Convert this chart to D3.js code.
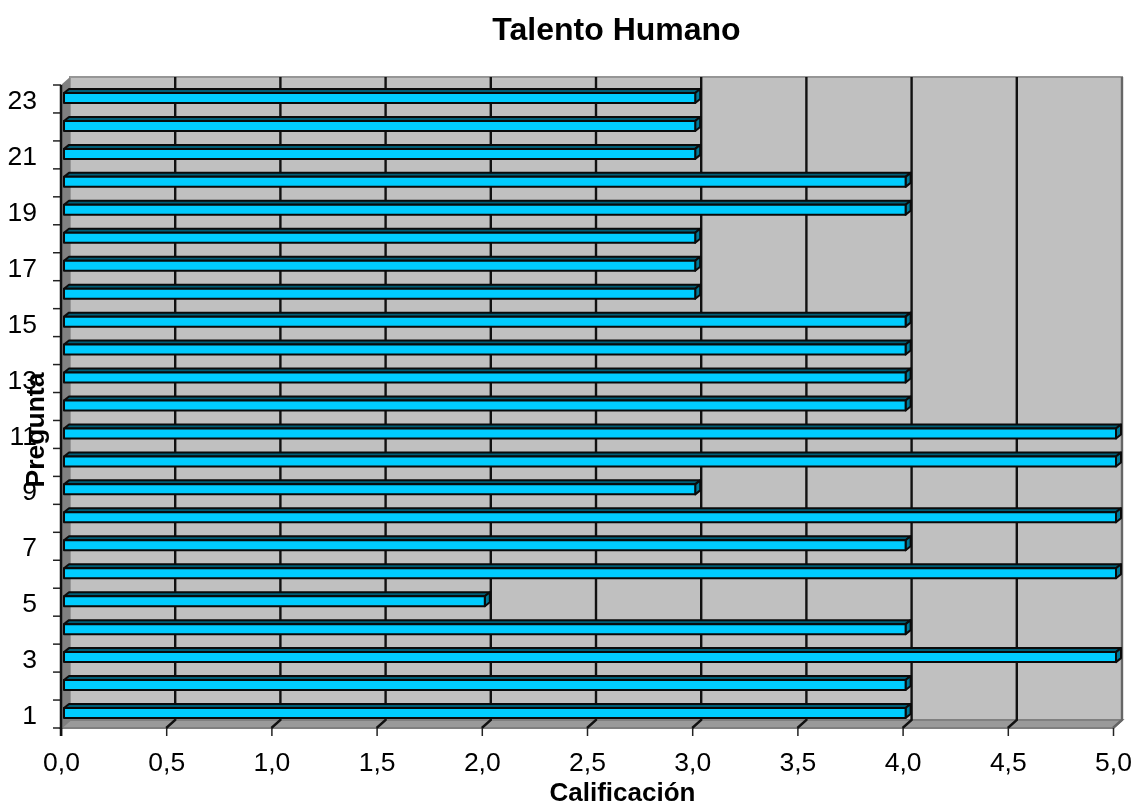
<!DOCTYPE html>
<html><head><meta charset="utf-8">
<script src="https://cdnjs.cloudflare.com/ajax/libs/d3/7.8.5/d3.min.js"></script>
<style>html,body{margin:0;padding:0;background:#fff}svg{display:block;filter:blur(0.45px)}text{font-family:"Liberation Sans",Arial,sans-serif;fill:#000}</style>
</head><body><svg id="c" width="1136" height="807"></svg>
<script>
const chartTitle = "Talento Humano";
const xTitle = "Calificación";
const yTitle = "Pregunta";
const preguntas = d3.range(1, 24);
const valores = [4,4,5,4,2,5,4,5,3,5,5,4,4,4,4,3,3,3,4,4,3,3,3];
const xTicks = [0,0.5,1,1.5,2,2.5,3,3.5,4,4.5,5];

const svg = d3.select("#c");
const x = d3.scaleLinear().domain([0,5]).range([61,1113]);
const y = d3.scaleBand().domain(preguntas).range([728,85]);
const dX = 9, dY = 8;
const fmt = d => d3.format(".1f")(d).replace(".", ",");
const plotTop = y.range()[1], bot = y.range()[0], L = x(0), R = x(5);
const pts = a => a.map(p => p.join(",")).join(" ");

// walls
svg.append("polygon").attr("points", pts([[L+dX,plotTop-dY],[R+dX,plotTop-dY],[R+dX,bot-dY],[L+dX,bot-dY]]))
  .attr("fill","#c0c0c0").attr("stroke","#969696").attr("stroke-width",2);
svg.append("polygon").attr("points", pts([[L,plotTop],[L+dX,plotTop-dY],[L+dX,bot-dY],[L,bot]])).attr("fill","#808080");
svg.append("polygon").attr("points", pts([[L,bot],[L+dX,bot-dY],[R+dX,bot-dY],[R,bot]]))
  .attr("fill","#9a9a9a").attr("stroke","#808080").attr("stroke-width",2);

// gridlines
const grid = svg.append("g").attr("fill","none").attr("stroke","#111").attr("stroke-width",2.4);
xTicks.filter(d => d > 0).forEach(d => {
  grid.append("polyline").attr("points", pts([[x(d),bot],[x(d)+dX,bot-dY],[x(d)+dX,plotTop-dY]]))
    .attr("stroke", d === 5 ? "#666" : "#111");
});

// bars
const barH = 10, fx = 3, by = 4, bs = 5;
const g = svg.append("g").attr("stroke","#0a0a0a").attr("stroke-width",2).attr("stroke-linejoin","round");
preguntas.forEach((p,i) => {
  const yc = y(p) + y.bandwidth()/2 - 1, t = yc - barH/2, b = yc + barH/2, x0 = L + fx, x1 = x(valores[i]) + fx;
  g.append("polygon").attr("points", pts([[x0,t],[x0+bs,t-by],[x1+bs,t-by],[x1,t]])).attr("fill","#005f78");
  g.append("polygon").attr("points", pts([[x1,t],[x1+bs,t-by],[x1+bs,b-by],[x1,b]])).attr("fill","#007a99");
  g.append("rect").attr("x",x0).attr("y",t).attr("width",x1-x0).attr("height",barH).attr("fill","#00ccff");
});

// axes
const xAxis = svg.append("g").attr("transform",`translate(0,${bot})`)
  .call(d3.axisBottom(x).tickValues(xTicks).tickFormat(fmt).tickSize(8).tickSizeOuter(0));
xAxis.select(".domain").remove();
xAxis.selectAll("line").attr("stroke","#222").attr("stroke-width",1.5);
xAxis.selectAll("text").attr("font-size",26.5).attr("dy",0).attr("y",43);

const yAxis = svg.append("g").attr("transform",`translate(${L},0)`)
  .call(d3.axisLeft(y).tickValues(preguntas.filter(d => d % 2 === 1)).tickSize(0));
yAxis.select(".domain").remove();
yAxis.selectAll("text").attr("font-size",26.5).attr("x",-24).attr("dy","0.38em");
// band edge ticks
svg.append("g").attr("stroke","#222").attr("stroke-width",1.5).selectAll("line")
  .data(preguntas.concat(["top"])).join("line")
  .attr("x1",L-8).attr("x2",L)
  .attr("y1",d => d === "top" ? plotTop : y(d)+y.bandwidth()).attr("y2",d => d === "top" ? plotTop : y(d)+y.bandwidth());
svg.append("line").attr("x1",L).attr("x2",L).attr("y1",plotTop).attr("y2",bot+8).attr("stroke","#111").attr("stroke-width",2.5);

// titles
svg.append("text").attr("x",616.5).attr("y",40).attr("text-anchor","middle").attr("font-weight","bold").attr("font-size",32).text(chartTitle);
svg.append("text").attr("x",622.5).attr("y",801).attr("text-anchor","middle").attr("font-weight","bold").attr("font-size",26).text(xTitle);
svg.append("text").attr("transform","translate(43.5,430) rotate(-90)").attr("text-anchor","middle").attr("font-weight","bold").attr("font-size",26.5).text(yTitle);
</script></body></html>
